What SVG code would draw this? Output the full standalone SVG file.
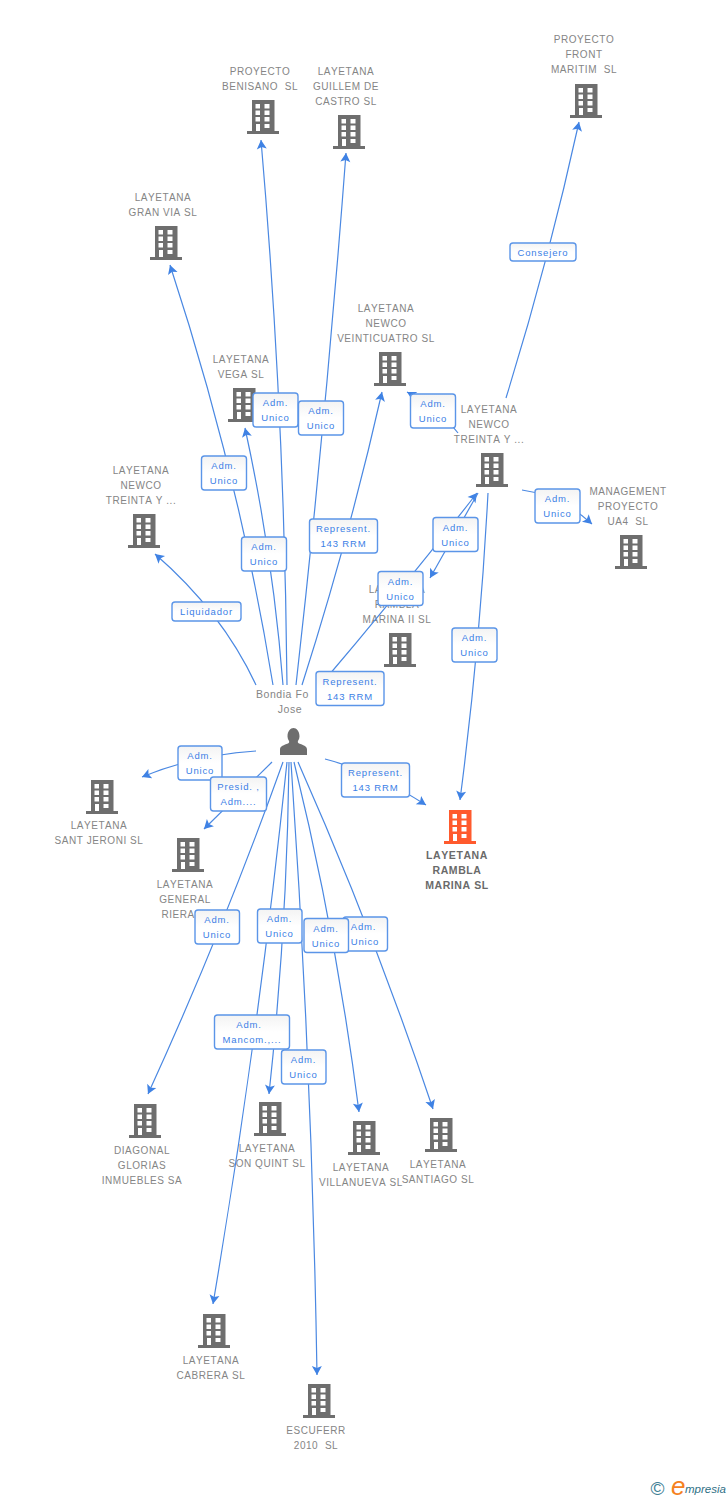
<svg xmlns="http://www.w3.org/2000/svg" width="728" height="1500" viewBox="0 0 728 1500">
<style>
text{font-family:"Liberation Sans",Arial,sans-serif;white-space:pre;font-kerning:none}
.n{font-size:10px;letter-spacing:.55px;fill:#858585;text-anchor:middle}
.t{font-size:10.5px;letter-spacing:.6px;fill:#6a6a6a;font-weight:bold;text-anchor:middle}
.b{fill:#6e6e6e}
.c{fill:none;stroke:#4a88e2;stroke-width:1.2;marker-end:url(#a)}
.r{fill:url(#g);stroke:#5b95e8;stroke-width:1.4}
.l{font-size:9.5px;letter-spacing:.85px;fill:#3b80e6;text-anchor:middle}
</style>
<defs>
<linearGradient id="g" x1="0" y1="0" x2="0" y2="1"><stop offset="0" stop-color="#f3f3f3"/><stop offset=".5" stop-color="#fff"/></linearGradient>
<marker id="a" markerUnits="userSpaceOnUse" markerWidth="12" markerHeight="12" viewBox="-10 -6 12 12" refX="0" refY="0" orient="auto"><path d="M0 0L-9-5-7 0-9 5Z" fill="#3f82e4"/></marker>
<symbol id="bld" width="32" height="34" viewBox="0 0 32 34"><path fill-rule="evenodd" d="M5 0H27.500V31H32V34H0V31H5ZM8.500 4V8.500H13V4ZM17.500 4V8.500H22.500V4ZM8.500 10.500V15H13V10.500ZM17.500 10.500V15H22.500V10.500ZM8.500 17V21.500H13V17ZM17.500 17V21.500H22.500V17ZM17.500 24V28H22.500V24ZM9 24V31H13V24Z"/></symbol>
</defs>
<g id="n-front"><text class="n" x="584" y="43">PROYECTO</text><text class="n" x="584" y="58">FRONT</text><text class="n" x="584" y="73">MARITIM  SL</text><use href="#bld" class="b" x="570" y="84"/></g>
<g id="n-benisano"><text class="n" x="260" y="75">PROYECTO</text><text class="n" x="260" y="90">BENISANO  SL</text><use href="#bld" class="b" x="247" y="100"/></g>
<g id="n-guillem"><text class="n" x="346" y="75">LAYETANA</text><text class="n" x="346" y="90">GUILLEM DE</text><text class="n" x="346" y="105">CASTRO SL</text><use href="#bld" class="b" x="333" y="115"/></g>
<g id="n-granvia"><text class="n" x="163" y="201">LAYETANA</text><text class="n" x="163" y="216">GRAN VIA SL</text><use href="#bld" class="b" x="150" y="226"/></g>
<g id="n-veinticuatro"><text class="n" x="386" y="312">LAYETANA</text><text class="n" x="386" y="327">NEWCO</text><text class="n" x="386" y="342">VEINTICUATRO SL</text><use href="#bld" class="b" x="374" y="352"/></g>
<g id="n-vega"><text class="n" x="241" y="363">LAYETANA</text><text class="n" x="241" y="378">VEGA SL</text><use href="#bld" class="b" x="228" y="388"/></g>
<g id="n-treinta-l"><text class="n" x="141" y="474">LAYETANA</text><text class="n" x="141" y="489">NEWCO</text><text class="n" x="141" y="504">TREINTA Y ...</text><use href="#bld" class="b" x="128" y="514"/></g>
<g id="n-treinta-r"><text class="n" x="489" y="413">LAYETANA</text><text class="n" x="489" y="428">NEWCO</text><text class="n" x="489" y="443">TREINTA Y ...</text><use href="#bld" class="b" x="476" y="453"/></g>
<g id="n-management"><text class="n" x="628" y="495">MANAGEMENT</text><text class="n" x="628" y="510">PROYECTO</text><text class="n" x="628" y="525">UA4  SL</text><use href="#bld" class="b" x="615" y="535"/></g>
<g id="n-rambla2"><text class="n" x="397" y="593">LAYETANA</text><text class="n" x="397" y="608">RAMBLA</text><text class="n" x="397" y="623">MARINA II SL</text><use href="#bld" class="b" x="384" y="633"/></g>
<g id="n-person"><text class="n" x="256" y="698" style="text-anchor:start;font-size:10.500px">Bondia Fo</text><text class="n" x="290" y="713" style="font-size:10.500px">Jose</text><path class="b" d="M280 755V749.500C280 746 284 745 288 743.500 289 743 289.500 742 289 741 288 739.500 287.500 738 287.500 736.500 287.500 731 290.500 728 293.500 728S299.500 731 299.500 736.500C299.500 738 299 739.500 298 741 297.500 742 298 743 299 743.500 303 745 307 746 307 749.500V755Z"/></g>
<g id="n-santjeroni"><use href="#bld" class="b" x="86" y="780"/><text class="n" x="99" y="829">LAYETANA</text><text class="n" x="99" y="844">SANT JERONI SL</text></g>
<g id="n-general"><use href="#bld" class="b" x="172" y="838"/><text class="n" x="185" y="888">LAYETANA</text><text class="n" x="185" y="903">GENERAL</text><text class="n" x="161.500" y="918" style="text-anchor:start">RIERA</text></g>
<g id="n-target"><use href="#bld" fill="#ff5a2d" x="444" y="810"/><text class="t" x="457" y="859">LAYETANA</text><text class="t" x="457" y="874">RAMBLA</text><text class="t" x="457" y="889">MARINA SL</text></g>
<g id="n-diagonal"><use href="#bld" class="b" x="129" y="1104"/><text class="n" x="142" y="1154">DIAGONAL</text><text class="n" x="142" y="1169">GLORIAS</text><text class="n" x="142" y="1184">INMUEBLES SA</text></g>
<g id="n-sonquint"><use href="#bld" class="b" x="254" y="1102"/><text class="n" x="267" y="1152">LAYETANA</text><text class="n" x="267" y="1167">SON QUINT SL</text></g>
<g id="n-villanueva"><use href="#bld" class="b" x="348" y="1121"/><text class="n" x="361" y="1171">LAYETANA</text><text class="n" x="361" y="1186">VILLANUEVA SL</text></g>
<g id="n-santiago"><use href="#bld" class="b" x="425" y="1118"/><text class="n" x="438" y="1168">LAYETANA</text><text class="n" x="438" y="1183">SANTIAGO SL</text></g>
<g id="n-cabrera"><use href="#bld" class="b" x="198" y="1314"/><text class="n" x="211" y="1364">LAYETANA</text><text class="n" x="211" y="1379">CABRERA SL</text></g>
<g id="n-escuferr"><use href="#bld" class="b" x="303" y="1384"/><text class="n" x="316" y="1434">ESCUFERR</text><text class="n" x="316" y="1449">2010  SL</text></g>
<g id="connectors">
<path class="c" d="M287 685Q284.500 412 261 140"/>
<path class="c" d="M296 685Q326 419 346 153"/>
<path class="c" d="M273 685Q239 475 170 265"/>
<path class="c" d="M283 685Q273 556 245 428"/>
<path class="c" d="M302 685Q349 538 382 392"/>
<path class="c" d="M318 688Q400 592 477 493"/>
<path class="c" d="M478 493L430 578"/>
<path class="c" d="M458 433Q440 410 407 392"/>
<path class="c" d="M506 398Q548.500 261 579 122"/>
<path class="c" d="M488 493Q480 646 460 800"/>
<path class="c" d="M522 490Q560 495 592 524"/>
<path class="c" d="M256 685Q222 612 155 554"/>
<path class="c" d="M325 759Q375 772 426 805"/>
<path class="c" d="M256 751Q195 755 142 777"/>
<path class="c" d="M272 762L204 829"/>
<path class="c" d="M283 762Q223 930 148 1094"/>
<path class="c" d="M289 762Q287 928 269 1094"/>
<path class="c" d="M287 762Q259 1033 213 1304"/>
<path class="c" d="M291 762Q312 1068 317 1375"/>
<path class="c" d="M294 762Q336.500 935 359 1112"/>
<path class="c" d="M298 762Q373.500 932 433 1109"/>
</g>
<g id="labels">
<g><rect class="r" x="253" y="393" width="45" height="34" rx="3"/><text class="l" x="275.500" y="406">Adm.</text><text class="l" x="275.500" y="421">Unico</text></g>
<g><rect class="r" x="298.500" y="401" width="45" height="34" rx="3"/><text class="l" x="321" y="414">Adm.</text><text class="l" x="321" y="429">Unico</text></g>
<g><rect class="r" x="410.500" y="394" width="45" height="34" rx="3"/><text class="l" x="433" y="407">Adm.</text><text class="l" x="433" y="422">Unico</text></g>
<g><rect class="r" x="201.500" y="456" width="45" height="34" rx="3"/><text class="l" x="224" y="469">Adm.</text><text class="l" x="224" y="484">Unico</text></g>
<g><rect class="r" x="241.500" y="537" width="45" height="34" rx="3"/><text class="l" x="264" y="550">Adm.</text><text class="l" x="264" y="565">Unico</text></g>
<g><rect class="r" x="309.500" y="519" width="68" height="34" rx="3"/><text class="l" x="343.500" y="532">Represent.</text><text class="l" x="343.500" y="547">143 RRM</text></g>
<g><rect class="r" x="433" y="517.500" width="45" height="34" rx="3"/><text class="l" x="455.500" y="530.500">Adm.</text><text class="l" x="455.500" y="545.500">Unico</text></g>
<g><rect class="r" x="378" y="571.500" width="45" height="34" rx="3"/><text class="l" x="400.500" y="584.500">Adm.</text><text class="l" x="400.500" y="599.500">Unico</text></g>
<g><rect class="r" x="452" y="628" width="45" height="34" rx="3"/><text class="l" x="474.500" y="641">Adm.</text><text class="l" x="474.500" y="656">Unico</text></g>
<g><rect class="r" x="535" y="489" width="45" height="34" rx="3"/><text class="l" x="557.500" y="502">Adm.</text><text class="l" x="557.500" y="517">Unico</text></g>
<g><rect class="r" x="316" y="671.500" width="68" height="34" rx="3"/><text class="l" x="350" y="684.500">Represent.</text><text class="l" x="350" y="699.500">143 RRM</text></g>
<g><rect class="r" x="172" y="602" width="69" height="19" rx="3"/><text class="l" x="206.500" y="615">Liquidador</text></g>
<g><rect class="r" x="510" y="243" width="66" height="18" rx="3"/><text class="l" x="543" y="255.500">Consejero</text></g>
<g><rect class="r" x="178" y="746" width="44" height="34" rx="3"/><text class="l" x="200" y="759">Adm.</text><text class="l" x="200" y="774">Unico</text></g>
<g><rect class="r" x="210.500" y="777" width="56" height="34" rx="3"/><text class="l" x="238.500" y="790">Presid. ,</text><text class="l" x="238.500" y="805">Adm....</text></g>
<g><rect class="r" x="341.500" y="763" width="68" height="34" rx="3"/><text class="l" x="375.500" y="776">Represent.</text><text class="l" x="375.500" y="791">143 RRM</text></g>
<g><rect class="r" x="195" y="910" width="44.500" height="34" rx="3"/><text class="l" x="217" y="923">Adm.</text><text class="l" x="217" y="938">Unico</text></g>
<g><rect class="r" x="257.500" y="909" width="44.500" height="34" rx="3"/><text class="l" x="279.500" y="922">Adm.</text><text class="l" x="279.500" y="937">Unico</text></g>
<g><rect class="r" x="343" y="917" width="44.500" height="34" rx="3"/><text class="l" x="363.500" y="930">Adm.</text><text class="l" x="365" y="945">Unico</text></g>
<g><rect class="r" x="304" y="918.500" width="44.500" height="34" rx="3"/><text class="l" x="326" y="931.500">Adm.</text><text class="l" x="326" y="946.500">Unico</text></g>
<g><rect class="r" x="214.500" y="1015" width="75" height="34" rx="3"/><text class="l" x="249" y="1028">Adm.</text><text class="l" x="252" y="1043">Mancom.,...</text></g>
<g><rect class="r" x="281.500" y="1050" width="44.500" height="34" rx="3"/><text class="l" x="303.500" y="1063">Adm.</text><text class="l" x="303.500" y="1078">Unico</text></g>
</g>
<g id="logo"><text x="650.500" y="1495" style="font-size:19px;fill:#3f7f95">©</text><text x="671" y="1495" style="font-size:26px;font-style:italic;fill:#f5821f">e</text><text x="685" y="1493" style="font-size:11.500px;font-style:italic;fill:#2f6f85">mpresia</text></g>
</svg>
